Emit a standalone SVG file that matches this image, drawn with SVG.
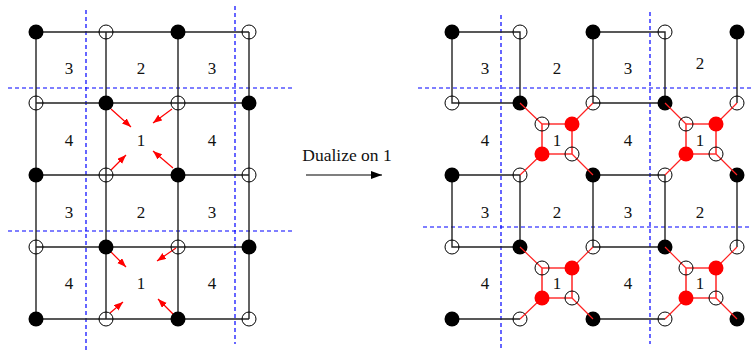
<svg xmlns="http://www.w3.org/2000/svg" width="751" height="351" viewBox="0 0 751 351">
<style>
.bg{fill:#fff}
.dash{stroke:#0000ff;stroke-width:1.2;stroke-dasharray:4 3;fill:none}
.edge{stroke:#222;stroke-width:1.4;fill:none}
.redge{stroke:#f22;stroke-width:1.2;fill:none}
.rsq{stroke:#f33;stroke-width:1.6;fill:none}
.arr{stroke:#f00;stroke-width:1.2;fill:none;marker-end:url(#ra)}
.f{fill:#000}
.o{fill:none;stroke:#000;stroke-width:1}
.r{fill:#f00}
.lbl{font-family:"Liberation Serif","Times New Roman",serif;font-size:17px;fill:#111;text-anchor:middle}
</style>
<defs>
<marker id="ra" markerUnits="userSpaceOnUse" markerWidth="10" markerHeight="8" refX="9" refY="3.5" orient="auto">
<path d="M0,0 L9,3.5 L0,7 z" fill="#f00"/>
</marker>
<marker id="ka" markerUnits="userSpaceOnUse" markerWidth="12" markerHeight="8" refX="11" refY="4" orient="auto">
<path d="M0,0 L11,4 L0,8 z" fill="#000"/>
</marker>
</defs>
<rect class="bg" x="0" y="0" width="751" height="351"/>

<g id="guides">
<path class="dash" d="M86,10V350 M235,6V344 M8,88H292 M8,231H292"/>
<path class="dash" d="M501,15V350 M650,12V344 M418,88H751 M423,227H751"/>
</g>

<g id="connectors">
<path class="edge" d="M36,32H249 M36,103H249 M36,175H249 M36,247H249 M36,319H249 M36,32V319 M106,32V319 M178,32V319 M249,32V319"/>
<path class="edge" d="M452,32H520V103H452Z M593,32H665V103H593Z M737,32V103 M452,175H520V247H452Z M593,175H665V247H593Z M737,175V247 M452,319H520 M593,319H665"/>
<path class="arr" d="M111,109L131,127"/>
<path class="arr" d="M172,109L153,123"/>
<path class="arr" d="M111,170L126,155"/>
<path class="arr" d="M173,168L153,151"/>
<path class="arr" d="M108,249L126,267"/>
<path class="arr" d="M176,248L157,261"/>
<path class="arr" d="M110,313L123,302"/>
<path class="arr" d="M176,317L158,299"/>
<path d="M306,175H382" stroke="#000" stroke-width="1.2" fill="none" marker-end="url(#ka)"/>
</g>

<g id="left-vertices">
<g id="L00"><circle class="f" cx="36" cy="32" r="7.5"/></g>
<g id="L01"><circle class="o" cx="106" cy="32" r="7"/></g>
<g id="L02"><circle class="f" cx="178" cy="32" r="7.5"/></g>
<g id="L03"><circle class="o" cx="249" cy="32" r="7"/></g>
<g id="L10"><circle class="o" cx="36" cy="103" r="7"/></g>
<g id="L11"><circle class="f" cx="106" cy="103" r="7.5"/></g>
<g id="L12"><circle class="o" cx="178" cy="103" r="7"/></g>
<g id="L13"><circle class="f" cx="249" cy="103" r="7.5"/></g>
<g id="L20"><circle class="f" cx="36" cy="175" r="7.5"/></g>
<g id="L21"><circle class="o" cx="106" cy="175" r="7"/></g>
<g id="L22"><circle class="f" cx="178" cy="175" r="7.5"/></g>
<g id="L23"><circle class="o" cx="249" cy="175" r="7"/></g>
<g id="L30"><circle class="o" cx="36" cy="247" r="7"/></g>
<g id="L31"><circle class="f" cx="106" cy="247" r="7.5"/></g>
<g id="L32"><circle class="o" cx="178" cy="247" r="7"/></g>
<g id="L33"><circle class="f" cx="249" cy="247" r="7.5"/></g>
<g id="L40"><circle class="f" cx="36" cy="319" r="7.5"/></g>
<g id="L41"><circle class="o" cx="106" cy="319" r="7"/></g>
<g id="L42"><circle class="f" cx="178" cy="319" r="7.5"/></g>
<g id="L43"><circle class="o" cx="249" cy="319" r="7"/></g>
</g>

<g id="right-vertices">
<g id="R00"><circle class="f" cx="452" cy="32" r="7.5"/></g>
<g id="R01"><circle class="o" cx="520" cy="32" r="7"/></g>
<g id="R02"><circle class="f" cx="593" cy="32" r="7.5"/></g>
<g id="R03"><circle class="o" cx="665" cy="32" r="7"/></g>
<g id="R04"><circle class="f" cx="737" cy="32" r="7.5"/></g>
<g id="R10"><circle class="o" cx="452" cy="103" r="7"/></g>
<g id="R11"><circle class="f" cx="520" cy="103" r="7.5"/></g>
<g id="R12"><circle class="o" cx="593" cy="103" r="7"/></g>
<g id="R13"><circle class="f" cx="665" cy="103" r="7.5"/></g>
<g id="R14"><circle class="o" cx="737" cy="103" r="7"/></g>
<g id="R20"><circle class="f" cx="452" cy="175" r="7.5"/></g>
<g id="R21"><circle class="o" cx="520" cy="175" r="7"/></g>
<g id="R22"><circle class="f" cx="593" cy="175" r="7.5"/></g>
<g id="R23"><circle class="o" cx="665" cy="175" r="7"/></g>
<g id="R24"><circle class="f" cx="737" cy="175" r="7.5"/></g>
<g id="R30"><circle class="o" cx="452" cy="247" r="7"/></g>
<g id="R31"><circle class="f" cx="520" cy="247" r="7.5"/></g>
<g id="R32"><circle class="o" cx="593" cy="247" r="7"/></g>
<g id="R33"><circle class="f" cx="665" cy="247" r="7.5"/></g>
<g id="R34"><circle class="o" cx="737" cy="247" r="7"/></g>
<g id="R40"><circle class="f" cx="452" cy="319" r="7.5"/></g>
<g id="R41"><circle class="o" cx="520" cy="319" r="7"/></g>
<g id="R42"><circle class="f" cx="593" cy="319" r="7.5"/></g>
<g id="R43"><circle class="o" cx="665" cy="319" r="7"/></g>
<g id="R44"><circle class="f" cx="737" cy="319" r="7.5"/></g>
</g>

<g id="red-connectors">
<path class="redge" d="M520,103L542,124 M593,103L572,124 M520,175L542,154 M593,175L572,154"/>
<path class="redge" d="M665,103L686,124 M737,103L716,124 M665,175L686,154 M737,175L716,154"/>
<path class="redge" d="M520,247L542,268 M593,247L572,268 M520,319L542,298 M593,319L572,298"/>
<path class="redge" d="M665,247L686,268 M737,247L716,268 M665,319L686,298 M737,319L716,298"/>
<path class="rsq" d="M542,124H572V154H542Z M686,124H716V154H686Z M542,268H572V298H542Z M686,268H716V298H686Z"/>
</g>

<g id="dual-A">
<circle class="o" cx="542" cy="124" r="7"/><circle class="r" cx="572" cy="124" r="7.5"/>
<circle class="r" cx="542" cy="154" r="7.5"/><circle class="o" cx="572" cy="154" r="7"/>
</g>
<g id="dual-B">
<circle class="o" cx="686" cy="124" r="7"/><circle class="r" cx="716" cy="124" r="7.5"/>
<circle class="r" cx="686" cy="154" r="7.5"/><circle class="o" cx="716" cy="154" r="7"/>
</g>
<g id="dual-C">
<circle class="o" cx="542" cy="268" r="7"/><circle class="r" cx="572" cy="268" r="7.5"/>
<circle class="r" cx="542" cy="298" r="7.5"/><circle class="o" cx="572" cy="298" r="7"/>
</g>
<g id="dual-D">
<circle class="o" cx="686" cy="268" r="7"/><circle class="r" cx="716" cy="268" r="7.5"/>
<circle class="r" cx="686" cy="298" r="7.5"/><circle class="o" cx="716" cy="298" r="7"/>
</g>

<g id="labels">
<text class="lbl" x="69" y="74">3</text><text class="lbl" x="141" y="74">2</text><text class="lbl" x="212" y="74">3</text>
<text class="lbl" x="69" y="146">4</text><text class="lbl" x="141" y="146">1</text><text class="lbl" x="212" y="146">4</text>
<text class="lbl" x="69" y="218">3</text><text class="lbl" x="141" y="218">2</text><text class="lbl" x="212" y="218">3</text>
<text class="lbl" x="69" y="289">4</text><text class="lbl" x="141" y="289">1</text><text class="lbl" x="212" y="289">4</text>
<text class="lbl" x="485" y="74">3</text><text class="lbl" x="557" y="74">2</text><text class="lbl" x="628" y="74">3</text><text class="lbl" x="700" y="69">2</text>
<text class="lbl" x="485" y="146">4</text><text class="lbl" x="557" y="146">1</text><text class="lbl" x="628" y="146">4</text><text class="lbl" x="700" y="146">1</text>
<text class="lbl" x="485" y="218">3</text><text class="lbl" x="557" y="218">2</text><text class="lbl" x="628" y="218">3</text><text class="lbl" x="700" y="218">2</text>
<text class="lbl" x="485" y="289">4</text><text class="lbl" x="557" y="289">1</text><text class="lbl" x="628" y="289">4</text><text class="lbl" x="700" y="289">1</text>
</g>

<g id="caption">
<text x="347" y="161" font-family="'Liberation Serif','Times New Roman',serif" font-size="17.5" fill="#111" text-anchor="middle">Dualize on 1</text>
</g>
</svg>
